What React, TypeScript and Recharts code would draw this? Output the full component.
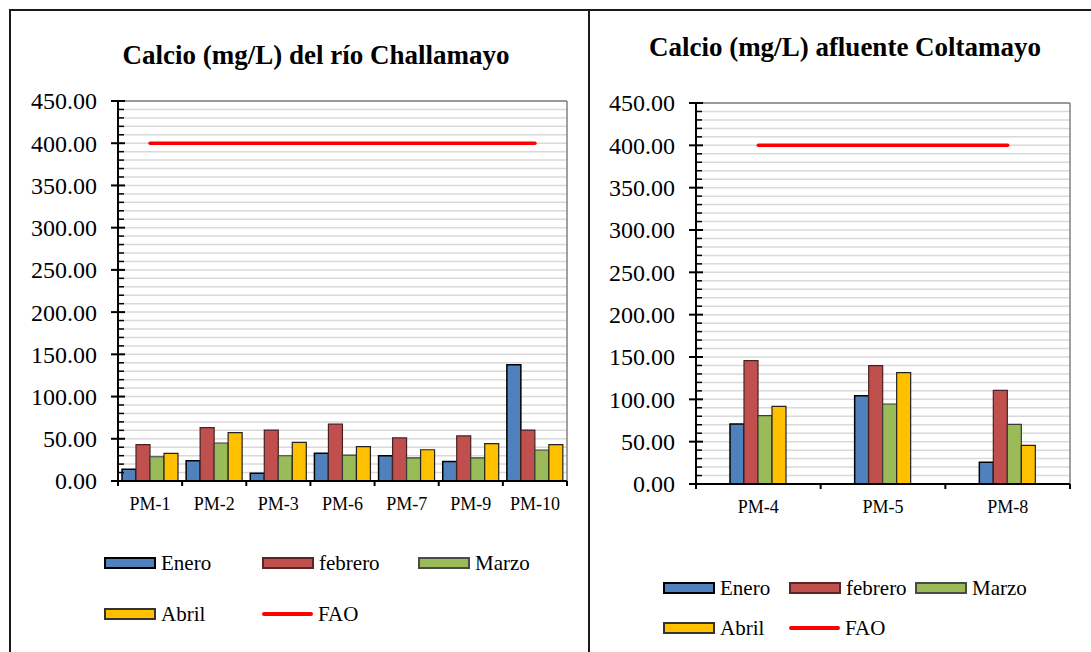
import React from 'react';
import { ComposedChart, Bar, Line, XAxis, YAxis, CartesianGrid } from 'recharts';

const FONT = 'Liberation Serif, Times New Roman, Times, serif';

// Challamayo river (left panel)
const sitesLeft = ['PM-1', 'PM-2', 'PM-3', 'PM-6', 'PM-7', 'PM-9', 'PM-10'];
const eneroLeft = [14, 24, 9.2, 33, 30, 23, 137.8];
const febreroLeft = [43, 63.3, 60.2, 67.3, 51, 53.4, 60.2];
const marzoLeft = [28.7, 45, 29.9, 30.7, 27.5, 27.5, 36.7];
const abrilLeft = [32.7, 57.4, 45.8, 40.6, 37, 44.2, 43];

// Coltamayo tributary (right panel)
const sitesRight = ['PM-4', 'PM-5', 'PM-8'];
const eneroRight = [70.9, 104.3, 25.6];
const febreroRight = [145.7, 139.8, 110.6];
const marzoRight = [80.7, 94.5, 70.5];
const abrilRight = [91.7, 131.5, 45.7];

// FAO limit
const faoLimit = 400;

const majorTicks = [0, 50, 100, 150, 200, 250, 300, 350, 400, 450];
const allTicks = [
  0, 10, 20, 30, 40, 50, 60, 70, 80, 90, 100, 110, 120, 130, 140, 150, 160, 170, 180, 190,
  200, 210, 220, 230, 240, 250, 260, 270, 280, 290, 300, 310, 320, 330, 340, 350, 360, 370,
  380, 390, 400, 410, 420, 430, 440, 450,
];

const COLORS = {
  enero: '#4F81BD',
  febrero: '#C0504D',
  marzo: '#9BBB59',
  abril: '#FFC000',
  fao: '#FF0000',
};

const makeXTick = (count: number) => (props: any) => {
  const { x, y, payload, index } = props;
  const half = payload?.offset ?? 0;
  return (
    <g>
      <line x1={x - half} y1={y} x2={x - half} y2={y + 5} stroke="#000" strokeWidth={2} />
      {index === count - 1 && (
        <line x1={x + half} y1={y} x2={x + half} y2={y + 5} stroke="#000" strokeWidth={2} />
      )}
      <text x={x} y={y + 29} textAnchor="middle" fontSize={18} fontFamily={FONT} fill="#000">
        {payload.value}
      </text>
    </g>
  );
};

// major ticks cross the axis and carry a label, minor ticks sit inside
const YTick = (props: any) => {
  const { x, y, payload } = props;
  const v = Number(payload.value);
  if (majorTicks.includes(v)) {
    return (
      <g>
        <line x1={x - 7} y1={y} x2={x + 7} y2={y} stroke="#000" strokeWidth={2} />
        <text
          x={x - 21}
          y={y}
          dy="0.35em"
          textAnchor="end"
          fontSize={24}
          fontFamily={FONT}
          fill="#000"
        >
          {v.toFixed(2)}
        </text>
      </g>
    );
  }
  return <line x1={x} y1={y} x2={x + 6} y2={y} stroke="#000" strokeWidth={1.5} />;
};

const Swatch = ({ color, line, edge }: { color: string; line?: boolean; edge?: string }) =>
  line ? (
    <div style={{ width: 51, height: 4, background: color, borderRadius: 2 }} />
  ) : (
    <div
      style={{
        width: 48,
        height: 8,
        background: color,
        border: `2px solid ${edge ?? '#333'}`,
      }}
    />
  );

interface PanelProps {
  left: number;
  width: number;
  sites: string[];
  enero: number[];
  febrero: number[];
  marzo: number[];
  abril: number[];
  margin: { top: number; right: number; bottom: number; left: number };
  chartHeight: number;
  title: string;
  titleCenter: number;
  titleY: number;
  legendX: number[];
  legendY: number[];
}

const Panel = (p: PanelProps) => {
  const rows = p.sites.map((site, i) => ({
    site,
    enero: p.enero[i],
    febrero: p.febrero[i],
    marzo: p.marzo[i],
    abril: p.abril[i],
    fao: faoLimit,
  }));

  const legend = [
    { name: 'Enero', color: COLORS.enero, col: 0, row: 0, edge: '#000' },
    { name: 'febrero', color: COLORS.febrero, col: 1, row: 0, edge: '#5a2523' },
    { name: 'Marzo', color: COLORS.marzo, col: 2, row: 0, edge: '#4a4a4a' },
    { name: 'Abril', color: COLORS.abril, col: 0, row: 1, edge: '#333' },
    { name: 'FAO', color: COLORS.fao, col: 1, row: 1, line: true },
  ];

  return (
    <div style={{ position: 'absolute', left: p.left, top: 0, width: p.width, height: 652 }}>
      <div
        style={{
          position: 'absolute',
          left: p.titleCenter - 250,
          width: 500,
          top: p.titleY - 16,
          height: 32,
          lineHeight: '32px',
          textAlign: 'center',
          fontFamily: FONT,
          fontWeight: 'bold',
          fontSize: 27,
          color: '#000',
        }}
      >
        {p.title}
      </div>
      <div style={{ position: 'absolute', left: 0, top: 0 }}>
        <ComposedChart
          width={p.width}
          height={p.chartHeight}
          data={rows}
          margin={p.margin}
          barGap={0}
          barSize={14}
        >
          <CartesianGrid vertical={false} stroke="#d9d9d9" strokeWidth={1.5} />
          {/* plot-area frame: top and right edges */}
          <CartesianGrid
            stroke="#808080"
            strokeWidth={1.5}
            horizontalCoordinatesGenerator={({ offset }: any) => [offset.top]}
            verticalCoordinatesGenerator={({ offset }: any) => [offset.left + offset.width]}
          />
          <XAxis
            dataKey="site"
            interval={0}
            tickSize={0}
            tickMargin={0}
            tickLine={false}
            height={40}
            axisLine={{ stroke: '#000', strokeWidth: 2 }}
            tick={makeXTick(p.sites.length)}
          />
          <YAxis
            domain={[0, 450]}
            ticks={allTicks}
            interval={0}
            width={100}
            tickSize={0}
            tickMargin={0}
            tickLine={false}
            tick={YTick}
            axisLine={{ stroke: '#000', strokeWidth: 2 }}
          />
          <Bar dataKey="enero" name="Enero" fill={COLORS.enero} stroke="#000" strokeWidth={1.5} isAnimationActive={false} />
          <Bar dataKey="febrero" name="febrero" fill={COLORS.febrero} stroke="#4a2020" strokeWidth={1.2} isAnimationActive={false} />
          <Bar dataKey="marzo" name="Marzo" fill={COLORS.marzo} stroke="#3a3a3a" strokeWidth={1.2} isAnimationActive={false} />
          <Bar dataKey="abril" name="Abril" fill={COLORS.abril} stroke="#222" strokeWidth={1.2} isAnimationActive={false} />
          <Line
            dataKey="fao"
            name="FAO"
            stroke={COLORS.fao}
            strokeWidth={3.5}
            strokeLinecap="round"
            dot={false}
            activeDot={false}
            isAnimationActive={false}
          />
        </ComposedChart>
      </div>
      {legend.map((item) => (
        <div
          key={item.name}
          style={{
            position: 'absolute',
            left: p.legendX[item.col],
            top: p.legendY[item.row] - 13,
            height: 26,
            display: 'flex',
            alignItems: 'center',
            gap: 5,
            fontFamily: FONT,
            fontSize: 21,
            color: '#000',
          }}
        >
          <Swatch color={item.color} line={item.line} edge={item.edge} />
          <span>{item.name}</span>
        </div>
      ))}
    </div>
  );
};

export default function App() {
  return (
    <div
      style={{
        position: 'absolute',
        left: 0,
        top: 0,
        width: 1091,
        height: 652,
        background: '#fff',
        overflow: 'hidden',
      }}
    >
      <Panel
        left={0}
        width={589}
        chartHeight={530}
        margin={{ top: 101, right: 22, bottom: 9, left: 18 }}
        sites={sitesLeft}
        enero={eneroLeft}
        febrero={febreroLeft}
        marzo={marzoLeft}
        abril={abrilLeft}
        title="Calcio (mg/L) del río Challamayo"
        titleCenter={316}
        titleY={55}
        legendX={[104, 262, 418]}
        legendY={[563, 614]}
      />
      <Panel
        left={589}
        width={502}
        chartHeight={530}
        margin={{ top: 103, right: 21, bottom: 6, left: 7 }}
        sites={sitesRight}
        enero={eneroRight}
        febrero={febreroRight}
        marzo={marzoRight}
        abril={abrilRight}
        title="Calcio (mg/L) afluente Coltamayo"
        titleCenter={256}
        titleY={47}
        legendX={[74, 200, 326]}
        legendY={[588, 628]}
      />
      {/* outer frame */}
      <div style={{ position: 'absolute', left: 9, top: 9, width: 1082, height: 2, background: '#1a1a1a' }} />
      <div style={{ position: 'absolute', left: 9, top: 9, width: 2, height: 643, background: '#1a1a1a' }} />
      <div style={{ position: 'absolute', left: 588, top: 9, width: 2, height: 643, background: '#1a1a1a' }} />
    </div>
  );
}
